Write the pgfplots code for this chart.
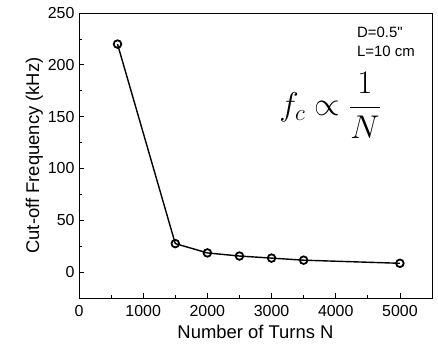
\documentclass[border=0pt]{standalone}
\usepackage{fix-cm}
\usepackage{fontspec}
\setmainfont{Liberation Sans}
\newfontfamily\straightfont{Liberation Sans}[Ligatures=TeXOff]
\usepackage{pgfplots}
\pgfplotsset{compat=1.18}
\begin{document}
\begin{tikzpicture}
\begin{axis}[
  scale only axis,
  width=353bp, height=285bp,
  xmin=0, xmax=5500, ymin=-25, ymax=250,
  xtick={0,1000,2000,3000,4000,5000},
  ytick={0,50,100,150,200,250},
  minor xtick={500,1500,2500,3500,4500},
  minor ytick={25,75,125,175,225},
  tick pos=left,
  tick align=inside,
  major tick length=5bp,
  minor tick length=3bp,
  axis line style={line width=0.9pt},
  every tick/.style={line width=0.8pt,black},
  /pgf/number format/assume math mode=true,
  /pgf/number format/set thousands separator={},
  scaled x ticks=false,
  ticklabel style={font=\fontsize{16}{18}\selectfont},
  xticklabel style={yshift=-4bp},
  yticklabel style={xshift=-1bp},
  xlabel={Number of Turns N},
  ylabel={Cut-off Frequency (kHz)},
  label style={font=\fontsize{18.5}{21}\selectfont},
  xlabel style={yshift=-1bp},
  ylabel style={yshift=-2bp},
  clip=false,
]
\addplot[black, line width=1.4pt, mark=o, mark size=3.8bp, mark options={line width=1.8pt, fill=white}]
coordinates {(600,220) (1500,27.5) (2000,18.5) (2500,15.5) (3000,13.5) (3500,11.5) (5000,8.5)};
\node[anchor=base west, font=\straightfont\fontsize{15}{18}\selectfont, inner sep=0pt] at (axis cs:4330,226.8) {D=0.5"};
\node[anchor=base west, font=\fontsize{15}{18}\selectfont, inner sep=0pt] at (axis cs:4330,208.5) {L=10 cm};
\node[inner sep=0pt, font=\fontsize{33}{38}\selectfont] at (axis cs:3911,161) {$\displaystyle f_c \propto \frac{1}{N}$};
\end{axis}
\path (current axis.south west) ++(-79bp,-46bp) coordinate (bl);
\path (current axis.north east) ++(6bp,13bp) coordinate (tr);
\path (bl) rectangle (tr);
\end{tikzpicture}
\end{document}
